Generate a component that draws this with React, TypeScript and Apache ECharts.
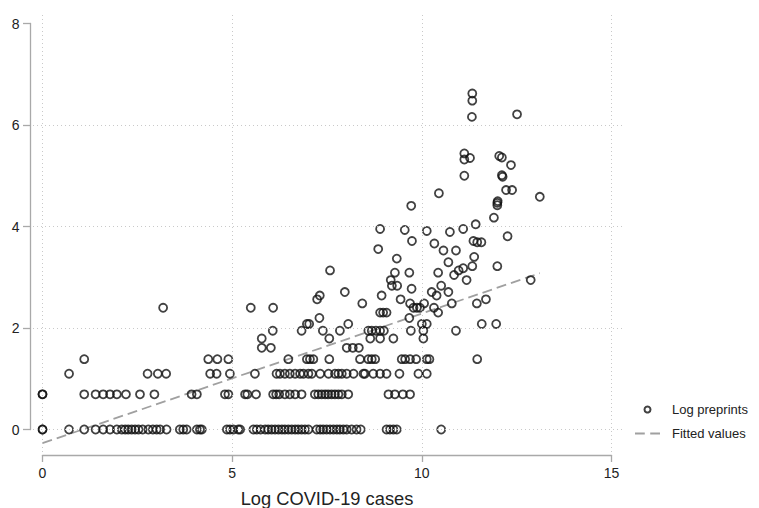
import React, { useEffect, useRef } from "react";
import * as echarts from "echarts";

// Log COVID-19 cases (x) for each observed level of Log preprints (y)
const preprintLevels = [
  0, 0.693, 1.099, 1.386, 1.609, 1.792, 1.946, 2.079, 2.197, 2.303, 2.398,
  2.485, 2.565, 2.639, 2.708, 2.773, 2.833, 2.944,
];
const casesLevel0 = [0, 0, 0.7, 1.1, 1.4, 1.6, 1.78, 1.96, 2.09, 2.18, 2.26, 2.35, 2.44, 2.53, 2.64, 2.79, 2.91, 3.01, 3.1, 3.27, 3.62, 3.71, 3.8, 4.07, 4.15, 4.2, 4.86, 4.94, 5.03, 5.16, 5.21, 5.56, 5.65, 5.75, 5.87, 5.95, 6.04, 6.13, 6.22, 6.31, 6.39, 6.48, 6.57, 6.66, 6.74, 6.83, 6.92, 7.01, 7.23, 7.32, 7.4, 7.49, 7.58, 7.67, 7.76, 7.84, 7.93, 8.02, 8.15, 8.28, 8.39, 9.07, 9.16, 9.25, 9.34, 10.51];
const casesLevel1 = [0, 0, 1.1, 1.4, 1.6, 1.78, 1.96, 2.2, 2.57, 2.95, 3.93, 4.07, 4.81, 4.9, 5.34, 5.4, 5.63, 6.08, 6.16, 6.24, 6.39, 6.52, 6.66, 6.83, 7.18, 7.27, 7.36, 7.45, 7.53, 7.62, 7.71, 7.8, 7.89, 8.06, 9.12, 9.29, 9.5, 9.69];
const casesLevel2 = [0.7, 2.77, 3.04, 3.26, 4.42, 4.59, 4.94, 5.6, 6.17, 6.26, 6.39, 6.52, 6.66, 6.79, 6.88, 7.01, 7.1, 7.32, 7.54, 7.71, 7.8, 7.89, 8.02, 8.2, 8.46, 8.5, 8.72, 8.9, 9.07, 9.41, 9.91, 10.13];
const casesLevel3 = [1.1, 4.37, 4.61, 4.9, 6.48, 6.97, 7.05, 7.14, 7.56, 8.37, 8.59, 8.68, 8.77, 9.47, 9.56, 9.69, 9.85, 10.13, 10.2, 11.46];
const casesLevel4 = [5.78, 6.02, 8.02, 8.18, 8.34];
const casesLevel5 = [5.78, 7.56, 8.64, 8.9, 9.25, 10.04];
const casesLevel6 = [6.07, 6.83, 7.39, 7.84, 8.59, 8.68, 8.79, 8.9, 9.0, 9.71, 10.04, 10.9];
const casesLevel7 = [6.97, 7.03, 8.06, 10.0, 10.13, 11.58, 11.96];
const casesLevel8 = [7.3, 9.67];
const casesLevel9 = [8.9, 8.98, 9.07, 10.43];
const casesLevel10 = [3.18, 5.49, 6.08, 9.78, 9.87, 9.95, 10.32];
const casesLevel11 = [8.43, 9.69, 10.06, 10.79, 11.45];
const casesLevel12 = [7.24, 9.44, 11.69];
const casesLevel13 = [7.31, 8.94, 10.39];
const casesLevel14 = [7.97, 10.26, 10.7];
const casesLevel15 = [9.73];
const casesLevel16 = [9.21, 9.35, 10.51];
const casesLevel17 = [9.18, 11.18, 12.87];
const casesByLevel = [
  casesLevel0, casesLevel1, casesLevel2, casesLevel3, casesLevel4, casesLevel5,
  casesLevel6, casesLevel7, casesLevel8, casesLevel9, casesLevel10, casesLevel11,
  casesLevel12, casesLevel13, casesLevel14, casesLevel15, casesLevel16, casesLevel17,
];

// Upper points (x, y pairs)
const upperCases = [9.29, 9.67, 10.43, 10.85, 7.58, 10.97, 11.09, 11.33, 11.99, 10.7, 9.34, 11.38, 10.57, 10.9, 8.85, 10.33, 11.36, 11.46, 11.57, 9.74, 12.26, 10.74, 10.13, 9.55, 8.9, 11.09, 11.42, 11.9, 11.99, 11.99, 12.0, 9.72, 10.45, 13.11, 12.22, 12.38, 11.12, 12.11, 12.13, 12.35, 11.12, 11.12, 11.27, 12.04, 12.11, 11.32, 11.33, 11.33, 12.51];
const upperPreprints = [3.091, 3.091, 3.091, 3.045, 3.135, 3.135, 3.178, 3.219, 3.219, 3.296, 3.367, 3.401, 3.526, 3.526, 3.555, 3.664, 3.714, 3.689, 3.689, 3.714, 3.807, 3.892, 3.912, 3.932, 3.951, 3.951, 4.043, 4.174, 4.419, 4.466, 4.5, 4.407, 4.654, 4.585, 4.718, 4.718, 5.0, 5.01, 4.98, 5.21, 5.44, 5.32, 5.35, 5.39, 5.36, 6.16, 6.48, 6.62, 6.21];

// Fitted values (linear fit) endpoints
const fitCases = [0, 13.11];
const fitPreprints = [-0.27, 3.08];

const xTicks = [0, 5, 10, 15];
const yGrid = [0, 2, 4, 6];

const FONT = "'Liberation Sans', Arial, Helvetica, sans-serif";

export default function App() {
  const ref = useRef<HTMLDivElement>(null);
  useEffect(() => {
    if (!ref.current) return;
    const chart = echarts.init(ref.current, null, { renderer: "svg" });

    const points: number[][] = [];
    casesByLevel.forEach((arr, i) => {
      arr.forEach((x) => points.push([x, preprintLevels[i]]));
    });
    upperCases.forEach((x, i) => points.push([x, upperPreprints[i]]));
    const fitData = fitCases.map((x, i) => [x, fitPreprints[i]]);

    // axis frame (data range) in pixels
    const axL = 42.5, axR = 611.5, axT = 23.5, axB = 429.5;
    const pxX = (axR - axL) / 15;
    const pxY = (axB - axT) / 8;
    // plot region (wider than data range)
    const pL = 33, pR = 622, pT = 13, pB = 452;

    const axisColor = "#a9a9a9";
    const option: any = {
      animation: false,
      backgroundColor: "#fff",
      grid: [
        {
          left: pL, top: pT, width: pR - pL, height: pB - pT,
          containLabel: false, outerBoundsMode: "none",
        },
        {
          left: axL, top: axT, width: axR - axL, height: axB - axT,
          containLabel: false, outerBoundsMode: "none",
        },
      ],
      xAxis: [
        {
          gridIndex: 0, type: "value", show: false,
          min: (pL - axL) / pxX, max: (pR - axL) / pxX,
        },
        {
          gridIndex: 1, type: "value", min: 0, max: 15, interval: 5,
          offset: 25.5,
          axisLine: { show: true, onZero: false, lineStyle: { color: axisColor, width: 1.3 } },
          axisTick: { show: true, length: 7, lineStyle: { color: axisColor, width: 1.3 } },
          axisLabel: { fontSize: 14, color: "#222", margin: 11, fontFamily: FONT },
          splitLine: { show: false },
          name: "Log COVID-19 cases",
          nameLocation: "middle",
          nameGap: 34,
          nameTextStyle: { fontSize: 18.3, color: "#222", fontFamily: FONT },
        },
      ],
      yAxis: [
        {
          gridIndex: 0, type: "value", show: false,
          min: -(pB - axB) / pxY, max: (axB - pT) / pxY,
        },
        {
          gridIndex: 1, type: "value", min: 0, max: 8, interval: 2,
          offset: 12,
          axisLine: { show: true, onZero: false, lineStyle: { color: axisColor, width: 1.3 } },
          axisTick: { show: true, length: 7.5, lineStyle: { color: axisColor, width: 1.3 } },
          axisLabel: { fontSize: 14, color: "#222", margin: 11, fontFamily: FONT },
          splitLine: { show: false },
        },
      ],
      legend: {
        orient: "vertical",
        left: 630,
        top: 398,
        itemWidth: 25,
        itemHeight: 6,
        itemGap: 11,
        textStyle: { fontSize: 13, color: "#222", fontFamily: FONT, padding: [0, 0, 0, 7] },
        data: [
          { name: "Log preprints" },
          {
            name: "Fitted values",
            icon: "path://M0,0h9v2h-9z M14,0h9v2h-9z",
            itemStyle: { color: "#a0a0a0", borderWidth: 0 },
          },
        ],
        selectedMode: false,
      },
      series: [
        {
          name: "gridlines",
          type: "line",
          xAxisIndex: 0,
          yAxisIndex: 0,
          data: [],
          silent: true,
          z: 1,
          markLine: {
            silent: true,
            symbol: ["none", "none"],
            label: { show: false },
            lineStyle: { color: "#c9c9c9", width: 1, type: [1, 3] },
            emphasis: { disabled: true },
            data: [
              ...xTicks.map((v) => ({ xAxis: v })),
              ...yGrid.map((v) => ({ yAxis: v })),
            ],
          },
        },
        {
          name: "Fitted values",
          type: "line",
          xAxisIndex: 0,
          yAxisIndex: 0,
          data: fitData,
          symbol: "none",
          color: "#a0a0a0",
          lineStyle: { color: "#a0a0a0", width: 1.8, type: [10, 5] },
          z: 2,
          silent: true,
        },
        {
          name: "Log preprints",
          type: "scatter",
          xAxisIndex: 0,
          yAxisIndex: 0,
          data: points,
          symbol: "circle",
          symbolSize: 8,
          itemStyle: { color: "rgba(0,0,0,0)", borderColor: "#111", borderWidth: 1.8 },
          emphasis: { disabled: true },
          z: 3,
          silent: true,
        },
      ],
    };
    chart.setOption(option);
    return () => chart.dispose();
  }, []);
  return (
    <div
      ref={ref}
      style={{ position: "absolute", left: 0, top: 0, width: 759, height: 508 }}
    />
  );
}
